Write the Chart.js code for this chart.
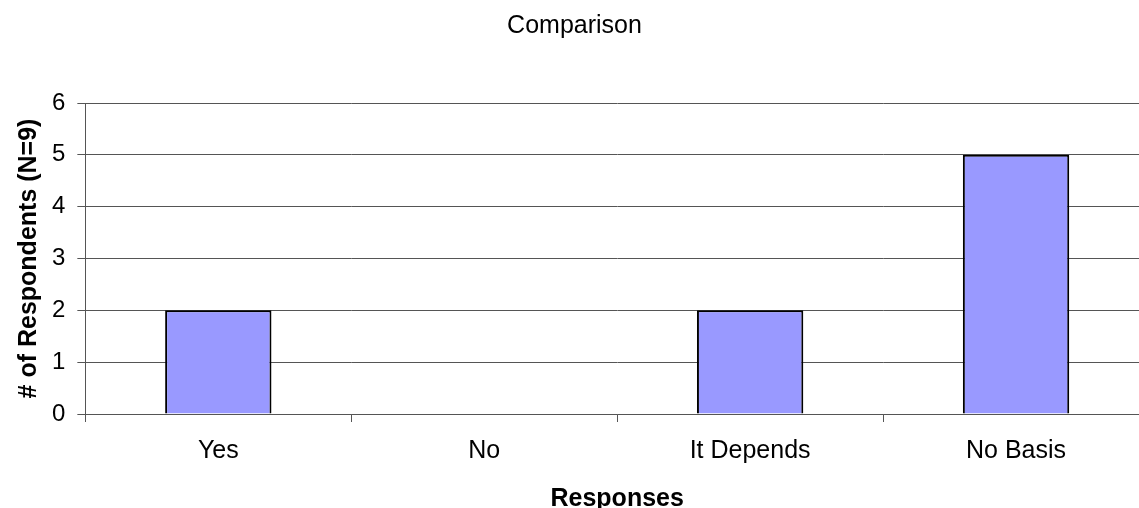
<!DOCTYPE html>
<html>
<head>
<meta charset="utf-8">
<script src="https://cdn.jsdelivr.net/npm/chart.js@4/dist/chart.umd.min.js"></script>
<style>
  html, body { margin: 0; padding: 0; background: #fff; overflow: hidden; }
  #wrap { position: relative; width: 1200px; height: 508px; }
</style>
</head>
<body>
<div id="wrap"><canvas id="chart" width="1200" height="508"></canvas></div>
<script>
const categories = ['Yes', 'No', 'It Depends', 'No Basis'];
const respondents = [2, 0, 2, 5];
const yTicks = [0, 1, 2, 3, 4, 5, 6];

const FONT = 'Arial, "Liberation Sans", sans-serif';

new Chart(document.getElementById('chart'), {
  type: 'bar',
  data: {
    labels: categories,
    datasets: [{
      label: 'Respondents',
      data: respondents,
      backgroundColor: '#9999ff',
      borderColor: '#000000',
      borderWidth: 2,
      barPercentage: 0.4,
      categoryPercentage: 1.0
    }]
  },
  options: {
    responsive: false,
    animation: false,
    layout: { padding: { left: 0, right: 51, top: 0, bottom: 0 } },
    plugins: {
      legend: { display: false },
      tooltip: { enabled: false },
      title: {
        display: true,
        text: 'Comparison',
        color: '#000',
        font: { family: FONT, size: 25, weight: 'normal', lineHeight: 1.2 },
        padding: { top: 11, bottom: 62 }
      }
    },
    scales: {
      x: {
        grid: {
          offset: true,
          drawOnChartArea: false,
          drawTicks: true,
          tickLength: 8,
          color: '#555'
        },
        border: { color: '#555', width: 1 },
        ticks: {
          color: '#000',
          font: { family: FONT, size: 25, lineHeight: 1.2 },
          padding: 14
        },
        title: {
          display: true,
          text: 'Responses',
          color: '#000',
          font: { family: FONT, size: 25, weight: 'bold', lineHeight: 0.88 },
          padding: { top: 8, bottom: -2 }
        }
      },
      y: {
        min: 0,
        max: 6,
        afterBuildTicks: (axis) => { axis.ticks = yTicks.map(v => ({ value: v })); },
        grid: {
          color: '#555',
          lineWidth: 1,
          tickLength: 8
        },
        border: { color: '#555', width: 1 },
        ticks: {
          color: '#000',
          font: { family: FONT, size: 24 },
          padding: 12
        },
        title: {
          display: true,
          text: '# of Respondents (N=9)',
          color: '#000',
          font: { family: FONT, size: 25, weight: 'bold', lineHeight: 1.2 },
          padding: { top: 14, bottom: -4 }
        }
      }
    }
  }
});
</script>
</body>
</html>
